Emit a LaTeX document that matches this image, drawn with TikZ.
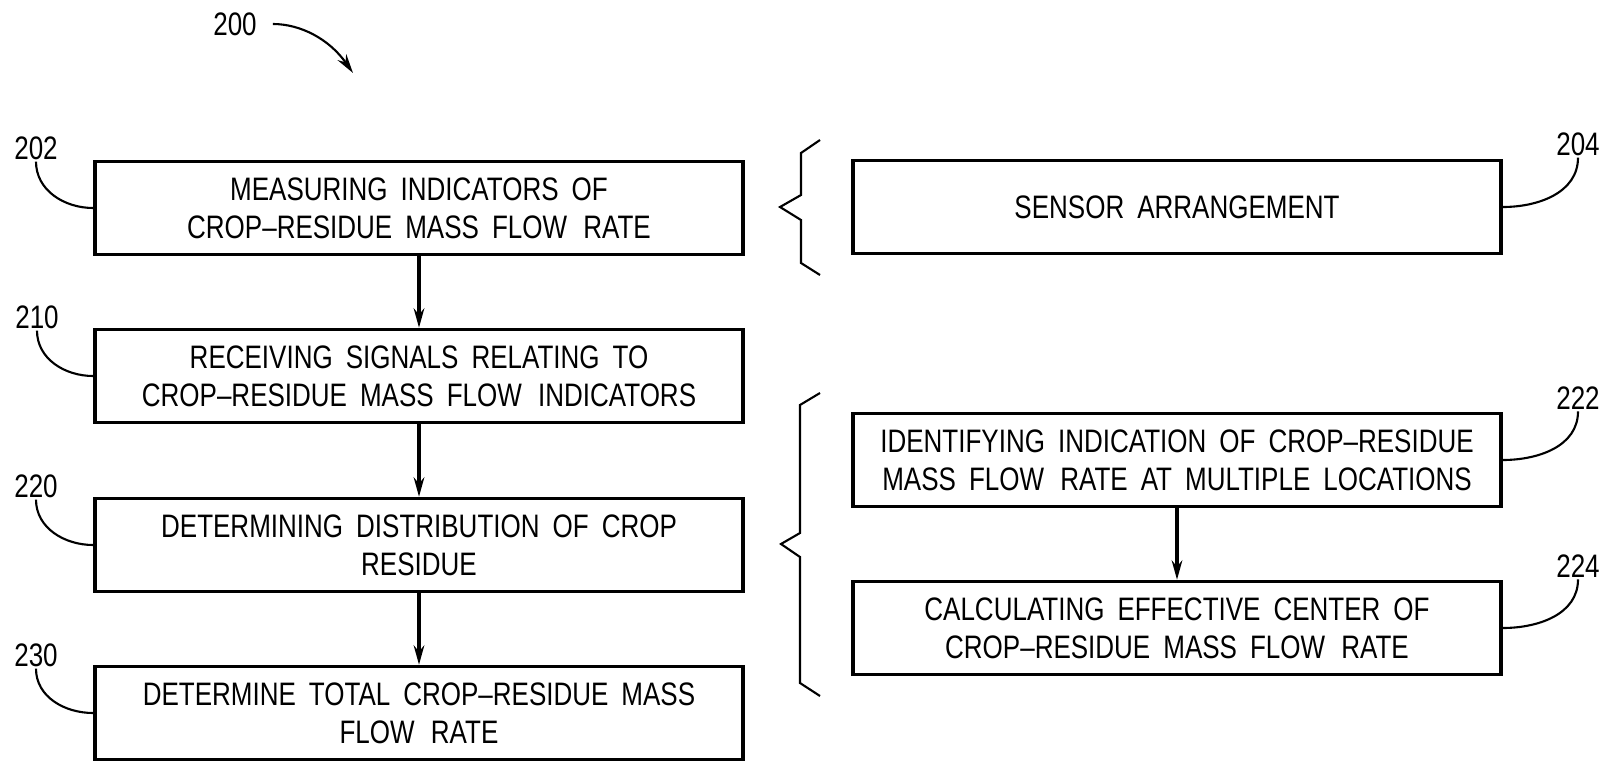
\documentclass[tikz,border=0pt]{standalone}
\usepackage{fontspec}
\setmainfont{Liberation Sans}[FakeStretch=0.8,WordSpace=1.8]
\usetikzlibrary{arrows.meta}

\begin{document}
\begin{tikzpicture}[x=0.02cm,y=-0.02cm,
  stepbox/.style={draw, line width=2pt, minimum width=12.97cm, minimum height=1.86cm,
    align=center, inner sep=0pt, font=\fontsize{18.5}{21.5}\selectfont},
  reflabel/.style={inner sep=1pt, font=\fontsize{18.5}{20}\selectfont},
  leader/.style={line width=1.2pt},
  flow/.style={line width=2pt, -{Stealth[length=11pt,width=6pt]}},
  brace/.style={line width=1.2pt}]
\useasboundingbox (0,0) rectangle (1616,763);

% left column
\node[stepbox] (meas) at (419,208) {MEASURING INDICATORS OF\\CROP--RESIDUE MASS FLOW\enspace RATE};
\node[stepbox] (recv) at (419,376) {RECEIVING SIGNALS RELATING TO\\CROP--RESIDUE MASS FLOW\enspace INDICATORS};
\node[stepbox] (distr) at (419,545) {DETERMINING DISTRIBUTION OF CROP\\RESIDUE};
\node[stepbox] (total) at (419,713) {DETERMINE TOTAL CROP--RESIDUE MASS\\FLOW\enspace RATE};

\draw[flow] (meas) -- (recv);
\draw[flow] (recv) -- (distr);
\draw[flow] (distr) -- (total);

% right column
\node[stepbox] (sensor) at (1177,207) {SENSOR ARRANGEMENT};
\node[stepbox] (ident) at (1177,460) {IDENTIFYING INDICATION OF CROP--RESIDUE\\MASS FLOW\enspace RATE AT MULTIPLE LOCATIONS};
\node[stepbox] (calc) at (1177,628) {CALCULATING EFFECTIVE CENTER OF\\CROP--RESIDUE MASS FLOW\enspace RATE};

\draw[flow] (ident) -- (calc);

% braces
\draw[brace] (820,140) -- (801,153) -- (801,195) -- (780,207) -- (801,220) -- (801,263) -- (820,275);
\draw[brace] (820,393) -- (800,405) -- (800,533) -- (781,544) -- (800,557) -- (800,683) -- (820,696);

% reference numerals
\node[reflabel] (l200) at (235,24) {200};
\coordinate (a200) at (353,73);
\draw[leader, -{Stealth[length=11pt,width=6pt]}, shorten <=8pt] (l200.east) to[out=0,in=125] (a200);

\node[reflabel] (l202) at (36,148) {202};
\node[reflabel] (l210) at (37,317) {210};
\node[reflabel] (l220) at (36,486) {220};
\node[reflabel] (l230) at (36,655) {230};
\draw[leader] (l202.south) to[out=-90,in=180] (meas.west);
\draw[leader] (l210.south) to[out=-90,in=180] (recv.west);
\draw[leader] (l220.south) to[out=-90,in=180] (distr.west);
\draw[leader] (l230.south) to[out=-90,in=180] (total.west);

\node[reflabel] (l204) at (1578,144) {204};
\node[reflabel] (l222) at (1578,398) {222};
\node[reflabel] (l224) at (1578,566) {224};
\draw[leader] (sensor.east) to[out=0,in=-90] (l204.south);
\draw[leader] (ident.east) to[out=0,in=-90] (l222.south);
\draw[leader] (calc.east) to[out=0,in=-90] (l224.south);
\end{tikzpicture}
\end{document}
